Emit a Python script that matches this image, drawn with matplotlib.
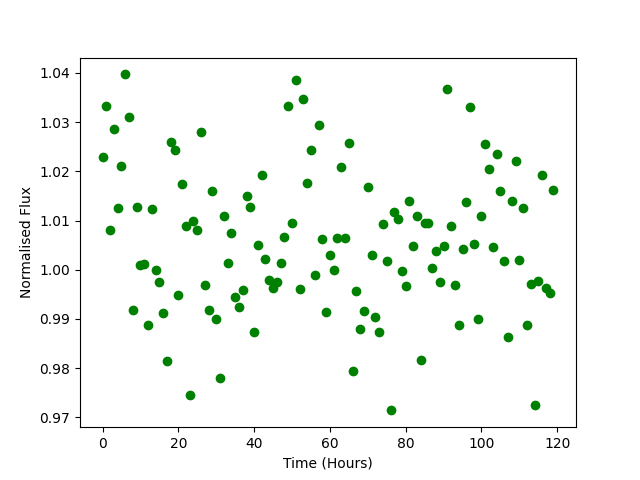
import numpy as np
import matplotlib
matplotlib.use('Agg')
import matplotlib.pyplot as plt

# Zeit in Stunden (0..119)
hours = list(range(120))

# Normalisierter Fluss
flux = [
    1.0230, 1.0333, 1.0080, 1.0285, 1.0125, 1.0210, 1.0397, 1.0310, 0.9918, 1.0127,
    1.0010, 1.0012, 0.9888, 1.0123, 1.0000, 0.9975, 0.9913, 0.9815, 1.0260, 1.0243,
    0.9948, 1.0175, 1.0088, 0.9745, 1.0098, 1.0080, 1.0280, 0.9968, 0.9918, 1.0160,
    0.9900, 0.9780, 1.0110, 1.0013, 1.0075, 0.9945, 0.9925, 0.9958, 1.0150, 1.0127,
    0.9873, 1.0050, 1.0193, 1.0022, 0.9980, 0.9963, 0.9975, 1.0013, 1.0067, 1.0333,
    1.0095, 1.0385, 0.9960, 1.0347, 1.0177, 1.0243, 0.9990, 1.0295, 1.0063, 0.9915,
    1.0030, 1.0000, 1.0065, 1.0208, 1.0065, 1.0257, 0.9794, 0.9957, 0.9880, 0.9916,
    1.0169, 1.0030, 0.9904, 0.9873, 1.0092, 1.0018, 0.9714, 1.0118, 1.0104, 0.9998,
    0.9967, 1.0139, 1.0049, 1.0110, 0.9816, 1.0094, 1.0094, 1.0004, 1.0039, 0.9976,
    1.0049, 1.0367, 1.0088, 0.9968, 0.9888, 1.0043, 1.0137, 1.0330, 1.0053, 0.9900,
    1.0110, 1.0255, 1.0204, 1.0047, 1.0235, 1.0159, 1.0017, 0.9863, 1.0139, 1.0220,
    1.0020, 1.0126, 0.9887, 0.9971, 0.9725, 0.9978, 1.0193, 0.9963, 0.9953, 1.0163,
]

fig, ax = plt.subplots(figsize=(6.4, 4.8), dpi=100)
ax.plot(hours, flux, 'go')
ax.set_xlabel('Time (Hours)')
ax.set_ylabel('Normalised Flux')

plt.savefig('out.png')
